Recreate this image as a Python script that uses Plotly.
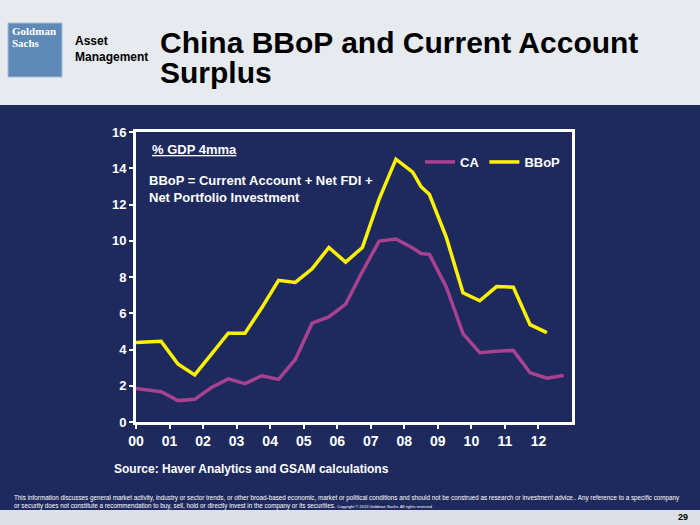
import plotly.graph_objects as go

# ---- data (x = year offset from 2000) ----
ca_x = [0.0, 0.75, 1.25, 1.75, 2.25, 2.75, 3.25, 3.75, 4.25, 4.75, 5.25, 5.75,
        6.25, 6.75, 7.25, 7.75, 8.25, 8.5, 8.75, 9.25, 9.75, 10.25, 10.75,
        11.25, 11.75, 12.25, 12.75]
ca_y = [1.85, 1.67, 1.18, 1.25, 1.9, 2.38, 2.12, 2.55, 2.35, 3.45, 5.45, 5.8,
        6.5, 8.3, 9.98, 10.1, 9.6, 9.3, 9.25, 7.45, 4.88, 3.82, 3.9,
        3.95, 2.72, 2.42, 2.57]
bbop_x = [0.0, 0.75, 1.25, 1.75, 2.25, 2.75, 3.25, 3.75, 4.25, 4.75, 5.25, 5.75,
          6.25, 6.75, 7.25, 7.75, 8.25, 8.5, 8.75, 9.0, 9.25, 9.75, 10.25,
          10.75, 11.25, 11.75, 12.25]
bbop_y = [4.38, 4.45, 3.2, 2.6, 3.75, 4.9, 4.9, 6.3, 7.82, 7.7, 8.45, 9.63,
          8.82, 9.63, 12.3, 14.5, 13.78, 12.98, 12.55, 11.42, 10.2, 7.13, 6.69,
          7.47, 7.44, 5.37, 4.93]
tick_vals = list(range(13))
tick_text = ["00", "01", "02", "03", "04", "05", "06", "07", "08", "09", "10", "11", "12"]

NAVY = "#1E2A5E"
CA_COLOR = "#A8418F"
BBOP_COLOR = "#FFF200"
W, H = 700, 525
L, R, T, B = 136, 572, 132, 422

def px(x):
    return (x - L) / (R - L)

def py(y):
    return (B - y) / (B - T)

fig = go.Figure()
fig.add_trace(go.Scatter(x=ca_x, y=ca_y, mode="lines", name="CA",
                         line=dict(color=CA_COLOR, width=3.5)))
fig.add_trace(go.Scatter(x=bbop_x, y=bbop_y, mode="lines", name="BBoP",
                         line=dict(color=BBOP_COLOR, width=3.5)))

shapes = [
    dict(type="rect", xref="paper", yref="paper", x0=px(0), x1=px(W), y0=py(105), y1=py(0),
         fillcolor="#E7EAEE", line=dict(width=0), layer="below"),
    dict(type="rect", xref="paper", yref="paper", x0=px(0), x1=px(W), y0=py(H), y1=py(510),
         fillcolor="#DDE1E6", line=dict(width=0), layer="below"),
    dict(type="rect", xref="paper", yref="paper", x0=px(8), x1=px(62), y0=py(77), y1=py(23),
         fillcolor="#5F8AB8", line=dict(color="#A7BDD8", width=1), layer="below"),
]

def ann(text, x, y, size, color="white", bold=True, family="Arial", xanchor="left",
        yanchor="middle", **kw):
    return dict(text=text, x=px(x), y=py(y), xref="paper", yref="paper", showarrow=False,
                xanchor=xanchor, yanchor=yanchor, align="left",
                font=dict(size=size, color=color, family=family,
                          weight="bold" if bold else "normal", **kw))

annotations = [
    ann("China BBoP and Current Account", 158, 42, 30, color="black"),
    ann("Surplus", 158, 73, 30, color="black"),
    ann("Asset<br>Management", 73, 49, 12, color="black", family="Liberation Sans Narrow, Arial"),
    ann("Goldman", 10, 31, 11, color="white", family="Liberation Serif"),
    ann("Sachs", 10, 43, 11, color="white", family="Liberation Serif"),
    ann("% GDP 4mma", 150, 149, 13, lineposition="under"),
    ann("BBoP = Current Account + Net FDI +<br>Net Portfolio Investment", 147, 189, 13),
    ann("Source: Haver Analytics and GSAM calculations", 112, 469, 12),
    ann("This information discusses general market activity, industry or sector trends, or other broad-based economic, market or political conditions and should not be construed as research or investment advice.. Any reference to a specific company<br>or security does not constitute a recommendation to buy, sell, hold or directly invest in the company or its securities. <span style='font-size:4px'>Copyright © 2013 Goldman Sachs. All rights reserved</span>",
        12, 502, 6.3, bold=False),
    ann("29", 690, 517, 9, color="black", xanchor="right"),
]

fig.update_layout(
    width=W, height=H,
    margin=dict(l=L, r=W - R, t=T, b=H - B, pad=0),
    paper_bgcolor=NAVY, plot_bgcolor=NAVY,
    shapes=shapes, annotations=annotations,
    showlegend=True,
    legend=dict(orientation="h", x=px(420), y=py(162), xanchor="left", yanchor="middle",
                bgcolor="rgba(0,0,0,0)", font=dict(family="Arial", size=13, color="white",
                                                   weight="bold"),
                itemwidth=30, tracegroupgap=0),
    xaxis=dict(range=[0, 13], tickvals=tick_vals, ticktext=tick_text,
               showgrid=False, zeroline=False, showline=True, linecolor="white", linewidth=3,
               mirror=True, ticks="outside", ticklen=4, tickwidth=2, tickcolor="white",
               tickfont=dict(family="Arial", size=14, color="white", weight="bold")),
    yaxis=dict(range=[0, 16], dtick=2, showgrid=False, zeroline=False, showline=True,
               linecolor="white", linewidth=3, mirror=True, ticks="outside", ticklen=4,
               tickwidth=2, tickcolor="white",
               tickfont=dict(family="Arial", size=13, color="white", weight="bold")),
)

fig.write_html("out.html")
